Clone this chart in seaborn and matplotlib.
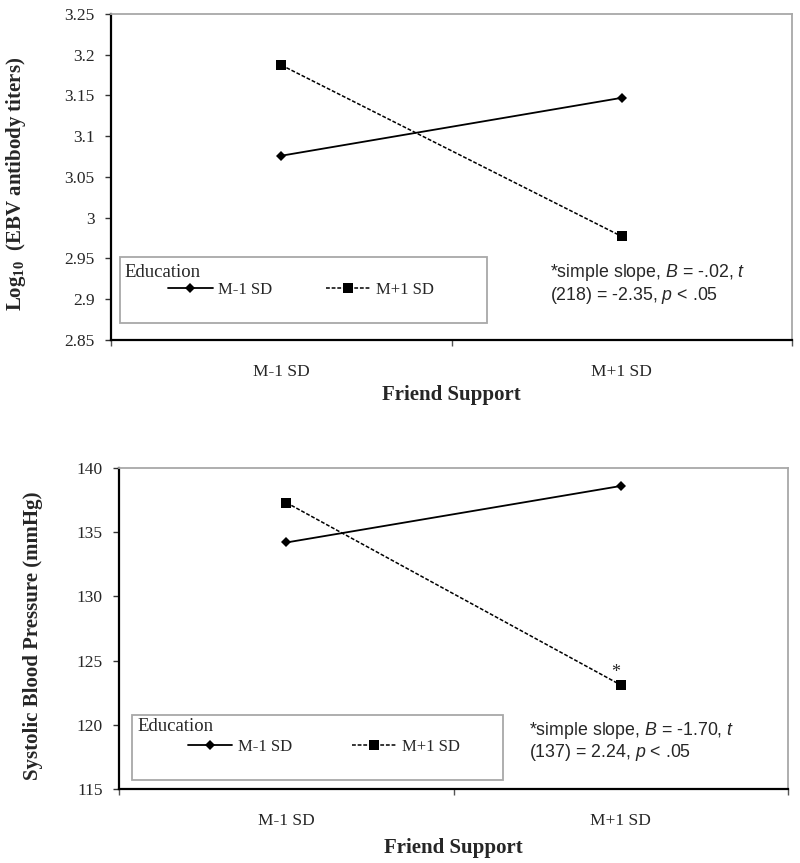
#!/usr/bin/env python3
"""
Friend support x education interaction plots: EBV antibody titers and SBP.
"""

import matplotlib
matplotlib.use('Agg')
import matplotlib.pyplot as plt
from matplotlib.patches import Rectangle
import seaborn as sns

support_levels = ['M-1 SD', 'M+1 SD']
edu_labels = ['M-1 SD', 'M+1 SD']

# Log10 EBV antibody titers
ebv_low_edu = [3.076, 3.147]
ebv_high_edu = [3.187, 2.977]

# Systolic blood pressure (mmHg)
sbp_low_edu = [134.2, 138.6]
sbp_high_edu = [137.3, 123.1]

ebv_note = ['*simple slope, $B$ = -.02, $t$', '(218) = -2.35, $p$ < .05']
sbp_note = ['*simple slope, $B$ = -1.70, $t$', '(137) = 2.24, $p$ < .05']

sns.set_style('white')
plt.rcParams['font.family'] = ['Liberation Serif', 'DejaVu Serif']
plt.rcParams['mathtext.fontset'] = 'custom'
plt.rcParams['mathtext.it'] = 'Liberation Sans:italic'
plt.rcParams['mathtext.rm'] = 'Liberation Sans'
plt.rcParams['mathtext.bf'] = 'Liberation Serif:bold'


def draw_panel(ax, low, high, ylim, yticks, ylabel, note, leg_box,
               title_xy, entries_xy, note_xy, ylabel_xy, xlabel_y, colspace):
    sns.lineplot(x=support_levels, y=low, ax=ax, color='black', lw=1.3,
                 marker='D', markersize=5, markeredgewidth=0, label=edu_labels[0])
    sns.lineplot(x=support_levels, y=high, ax=ax, color='black', lw=1.1,
                 linestyle=(0, (2.5, 1.2)), marker='s', markersize=7.5,
                 markeredgewidth=0, label=edu_labels[1])
    if ax.get_legend() is not None:
        ax.get_legend().remove()

    ax.set_xlim(-0.5, 1.5)
    ax.set_ylim(*ylim)
    ax.set_yticks(yticks, labels=[f'{v:g}' for v in yticks])
    ax.set_xticks([-0.5, 0.5, 1.5], labels=['', '', ''])
    ax.set_xticks([0, 1], labels=support_levels, minor=True)
    ax.tick_params(axis='x', which='minor', length=0, pad=17, labelsize=12.5)
    ax.tick_params(axis='x', which='major', length=4, width=1, color='#555555',
                   direction='out', bottom=True)
    ax.tick_params(axis='y', length=4, width=1, direction='out', left=True,
                   pad=8, labelsize=12.5, color='#333333')
    ax.grid(False)

    for side in ['left', 'bottom']:
        ax.spines[side].set_color('black')
        ax.spines[side].set_linewidth(1.6)
    for side in ['top', 'right']:
        ax.spines[side].set_color('#a8a8a8')
        ax.spines[side].set_linewidth(1.3)

    ax.set_ylabel(ylabel, fontsize=15, fontweight='bold')
    ax.yaxis.set_label_coords(*ylabel_xy)
    ax.set_xlabel('Friend Support', fontsize=15, fontweight='bold')
    ax.xaxis.set_label_coords(0.5, xlabel_y)

    # legend frame with title and entries in one row
    x0, y0, x1, y1 = leg_box
    ax.add_patch(Rectangle((x0, y0), x1 - x0, y1 - y0, transform=ax.transAxes,
                           fill=True, facecolor='white', edgecolor='#a8a8a8',
                           lw=1.3, zorder=3))
    ax.text(title_xy[0], title_xy[1], 'Education', transform=ax.transAxes,
            fontsize=13.5, ha='left', va='center', zorder=4)
    handles = ax.get_lines()[:2]
    leg = ax.legend(handles, edu_labels, ncol=2, frameon=False, loc='center left',
                    bbox_to_anchor=entries_xy, fontsize=12, handlelength=2.65,
                    handletextpad=0.35, columnspacing=colspace, borderpad=0,
                    borderaxespad=0)
    leg.set_zorder(5)

    ax.text(note_xy[0], note_xy[1], note[0] + '\n' + note[1],
            transform=ax.transAxes, family='Liberation Sans', fontsize=12.8,
            ha='left', va='center', linespacing=1.1)


fig = plt.figure(figsize=(8, 8.63), dpi=100)
ax1 = fig.add_axes([0.139, 0.606, 0.851, 0.378])
ax2 = fig.add_axes([0.149, 0.0857, 0.836, 0.372])

draw_panel(ax1, ebv_low_edu, ebv_high_edu, (2.85, 3.25),
           [2.85, 2.9, 2.95, 3.0, 3.05, 3.1, 3.15, 3.2, 3.25],
           r'Log$_{\mathbf{10}}$  (EBV antibody titers)', ebv_note,
           (0.013, 0.052, 0.552, 0.255), (0.019, 0.208), (0.084, 0.153),
           (0.645, 0.172), (-0.122, 0.479), -0.138, 3.2)

draw_panel(ax2, sbp_low_edu, sbp_high_edu, (115, 140),
           [115, 120, 125, 130, 135, 140],
           'Systolic Blood Pressure (mmHg)', sbp_note,
           (0.019, 0.028, 0.574, 0.23), (0.028, 0.196), (0.103, 0.131),
           (0.612, 0.148), (-0.114, 0.477), -0.153, 3.6)

# significance star above the high-education point at M+1 SD
ax2.annotate('*', xy=(support_levels[1], sbp_high_edu[1]), xytext=(-4, 3),
             textcoords='offset points', fontsize=13, ha='center', va='bottom')

fig.savefig('out.png', dpi=100)
